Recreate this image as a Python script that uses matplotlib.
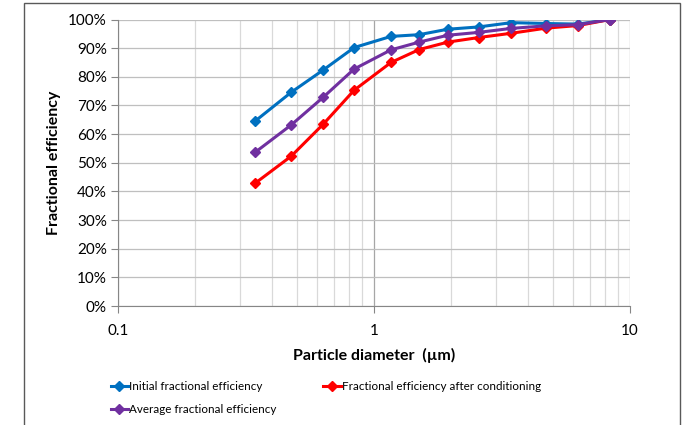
import matplotlib.pyplot as plt
from matplotlib.patches import Rectangle
from matplotlib.ticker import FixedLocator, LogLocator, NullFormatter, PercentFormatter

plt.rcParams['font.family'] = ['Lato', 'DejaVu Sans']

# particle diameter (um)
diameter = [0.344, 0.475, 0.634, 0.836, 1.165, 1.50, 1.94, 2.56, 3.44, 4.71, 6.28, 8.36]

# fractional efficiencies (%)
initial_eff = [64.6, 74.6, 82.4, 90.2, 94.1, 94.7, 96.6, 97.4, 98.9, 98.6, 98.4, 100.0]
conditioned_eff = [42.9, 52.3, 63.5, 75.3, 85.0, 89.5, 92.1, 93.7, 95.2, 97.0, 97.9, 100.0]
average_eff = [53.7, 63.2, 72.9, 82.7, 89.4, 92.1, 94.5, 95.5, 96.9, 97.8, 98.2, 100.0]

fig = plt.figure(figsize=(6.88, 4.25), dpi=100)
ax = fig.add_axes([118 / 688, 1 - 306 / 425, 512 / 688, 286.5 / 425])

l1, = ax.plot(diameter, initial_eff, color='#0070C0', lw=2.2, marker='D', ms=5,
              label='Initial fractional efficiency')
l2, = ax.plot(diameter, conditioned_eff, color='#FF0000', lw=2.2, marker='D', ms=5,
              label='Fractional efficiency after conditioning')
l3, = ax.plot(diameter, average_eff, color='#7030A0', lw=2.2, marker='D', ms=5,
              label='Average fractional efficiency')

ax.set_xscale('log')
ax.set_xlim(0.1, 10)
ax.set_ylim(0, 100)
ax.yaxis.set_major_locator(FixedLocator(range(0, 101, 10)))
ax.yaxis.set_major_formatter(PercentFormatter(decimals=0))
ax.xaxis.set_major_locator(FixedLocator([0.1, 1, 10]))
ax.set_xticklabels(['0.1', '1', '10'])
ax.xaxis.set_minor_locator(LogLocator(base=10, subs=range(2, 10)))
ax.xaxis.set_minor_formatter(NullFormatter())

ax.grid(True, which='major', axis='y', color='#bfbfbf', lw=0.9)
ax.grid(True, which='major', axis='x', color='#a6a6a6', lw=0.9)
ax.grid(True, which='minor', axis='x', color='#d9d9d9', lw=0.9)
ax.set_axisbelow(True)

for side in ('top', 'right'):
    ax.spines[side].set_visible(False)
for side in ('left', 'bottom'):
    ax.spines[side].set_color('#868686')
ax.tick_params(which='major', length=5, color='#868686', labelsize=11, pad=3,
               labelcolor='black')
ax.tick_params(axis='x', pad=8)
ax.tick_params(which='minor', length=0)

ax.set_ylabel('Fractional efficiency', fontsize=11.5, fontweight='bold', labelpad=5)
ax.set_xlabel('Particle diameter  (\u00b5m)', fontsize=11.5, fontweight='bold', labelpad=7)

fig.legend(handles=[l1, l3, l2], ncol=2, loc='upper left',
           bbox_to_anchor=(106 / 688, 1 - 376 / 425), frameon=False,
           fontsize=8.4, handlelength=1.5, handletextpad=0.1,
           columnspacing=4.0, labelspacing=1.05, borderaxespad=0)

fig.patches.append(Rectangle((24 / 688, -0.1), 656 / 688, 1.1 - 3 / 425,
                             transform=fig.transFigure, fill=False,
                             edgecolor='#595959', lw=1))

fig.savefig('out.png', dpi=100)
